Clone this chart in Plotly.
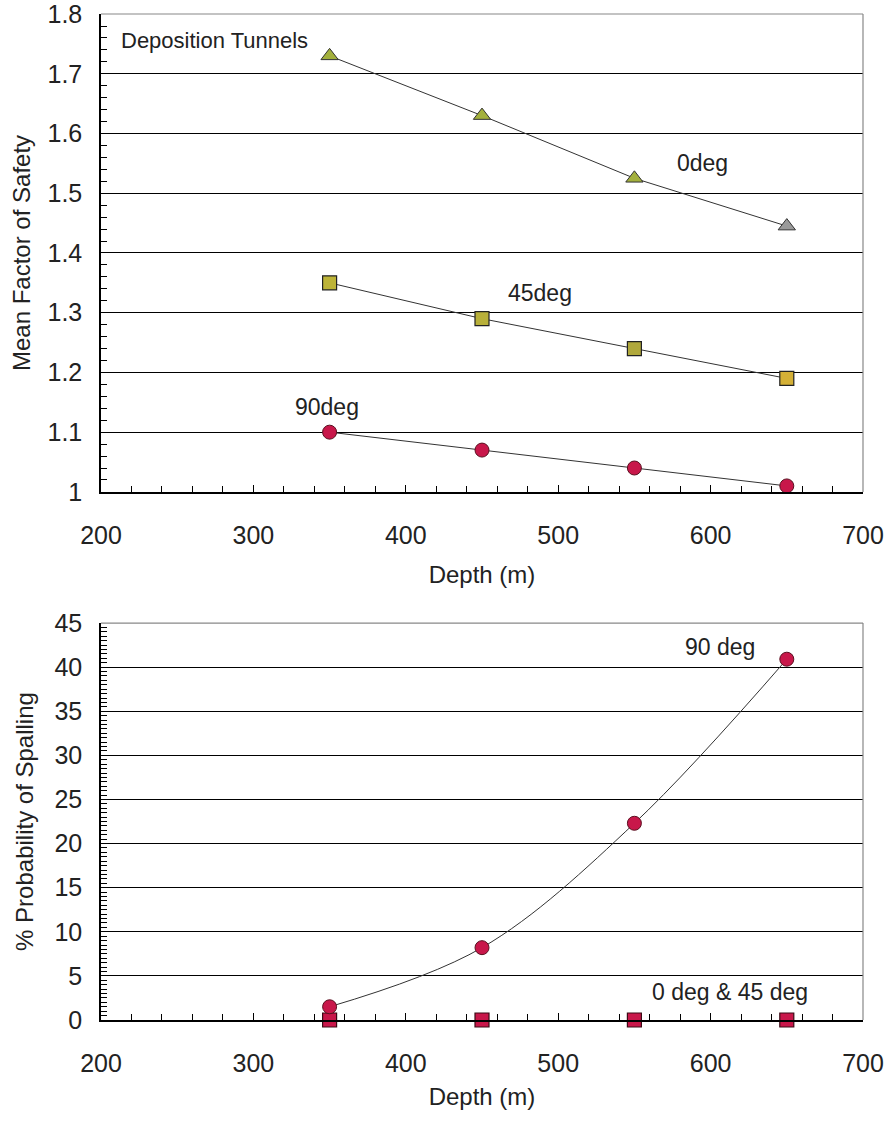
import plotly.graph_objects as go

depth = [350, 450, 550, 650]
fs_0deg = [1.73, 1.63, 1.525, 1.445]
fs_45deg = [1.35, 1.29, 1.24, 1.19]
fs_90deg = [1.10, 1.07, 1.04, 1.01]
ps_90deg = [1.5, 8.2, 22.3, 40.9]
ps_0_45deg = [0, 0, 0, 0]

FONT = "Liberation Sans, Arial, sans-serif"
LINE = "#333333"
TXT = "#222222"

fig = go.Figure()
fig.add_trace(go.Scatter(x=depth, y=fs_0deg, mode="lines+markers", xaxis="x", yaxis="y",
                         line=dict(color=LINE, width=1),
                         marker=dict(symbol="triangle-up", size=15,
                                     color=["#a3b03c", "#a3b03c", "#a3b03c", "#9a9a9a"],
                                     line=dict(color="#333333", width=1))))
fig.add_trace(go.Scatter(x=depth, y=fs_45deg, mode="lines+markers", xaxis="x", yaxis="y",
                         line=dict(color=LINE, width=1),
                         marker=dict(symbol="square", size=14,
                                     color=["#bdb438", "#b8b03a", "#b0a83c", "#d4b036"],
                                     line=dict(color="#222222", width=1.2))))
fig.add_trace(go.Scatter(x=depth, y=fs_90deg, mode="lines+markers", xaxis="x", yaxis="y",
                         line=dict(color=LINE, width=1),
                         marker=dict(symbol="circle", size=14, color="#c8174a",
                                     line=dict(color="#5a1020", width=1)), cliponaxis=False))
fig.add_trace(go.Scatter(x=depth, y=ps_0_45deg, mode="markers", xaxis="x2", yaxis="y2",
                         marker=dict(symbol="square", size=14, color="#c8174a",
                                     line=dict(color="#3a0a15", width=1.2)), cliponaxis=False))
fig.add_trace(go.Scatter(x=depth, y=ps_90deg, mode="lines+markers", xaxis="x2", yaxis="y2",
                         line=dict(color=LINE, width=1, shape="spline"),
                         marker=dict(symbol="circle", size=14, color="#c8174a",
                                     line=dict(color="#5a1020", width=1)), cliponaxis=False))

TICKF = dict(family=FONT, size=25, color=TXT)
TITLEF = dict(family=FONT, size=24, color=TXT)

xcommon = dict(range=[200, 700], dtick=100, tick0=200, ticks="inside", ticklen=7, tickcolor="black",
               showline=True, linecolor="black", linewidth=1.5, showgrid=False, zeroline=False,
               tickfont=TICKF, ticklabelstandoff=20, automargin=False, ticklabeloverflow="allow",
               minor=dict(dtick=20, ticks="inside", ticklen=6, tickcolor="black"))
ycommon = dict(ticks="inside", ticklen=7, tickcolor="black", showline=True, linecolor="black",
               linewidth=1.5, showgrid=True, gridcolor="black", gridwidth=1.3, zeroline=False,
               tickfont=TICKF, ticklabelstandoff=12, automargin=False, ticklabeloverflow="allow")

fig.update_layout(
    width=885, height=1124, showlegend=False,
    paper_bgcolor="white", plot_bgcolor="white",
    margin=dict(l=101, r=22, t=14, b=104),
    xaxis=dict(xcommon, anchor="y", domain=[0, 1],
               title=dict(text="Depth (m)", font=TITLEF, standoff=18)),
    yaxis=dict(ycommon, anchor="x", domain=[0.5249, 1], range=[0.9999, 1.8001],
               tickvals=[1.0, 1.1, 1.2, 1.3, 1.4, 1.5, 1.6, 1.7, 1.8],
               ticktext=["1", "1.1", "1.2", "1.3", "1.4", "1.5", "1.6", "1.7", "1.8"],
               minor=dict(dtick=0.02, tick0=1.0, ticks="inside", ticklen=6, tickcolor="black", showgrid=False),
               title=dict(text="Mean Factor of Safety", font=TITLEF, standoff=10)),
    xaxis2=dict(xcommon, anchor="y2", domain=[0, 1],
                title=dict(text="Depth (m)", font=TITLEF, standoff=12)),
    yaxis2=dict(ycommon, anchor="x2", domain=[0, 0.3946], range=[0, 45.001], dtick=5,
                minor=dict(dtick=0.5, ticks="inside", ticklen=6, tickcolor="black", showgrid=False),
                title=dict(text="% Probability of Spalling", font=TITLEF, standoff=14)),
)

for xr, yr in [("x domain", "y domain"), ("x2 domain", "y2 domain")]:
    fig.add_shape(type="line", xref=xr, yref=yr, x0=0, x1=1, y0=1, y1=1, line=dict(color="#888", width=1.2))
    fig.add_shape(type="line", xref=xr, yref=yr, x0=1, x1=1, y0=0, y1=1, line=dict(color="#888", width=1.2))

afont = dict(family=FONT, size=23, color=TXT)
fig.add_annotation(x=212, y=1.756, xref="x", yref="y", text="Deposition Tunnels", showarrow=False,
                   xanchor="left", font=dict(family=FONT, size=22, color=TXT))
fig.add_annotation(x=595, y=1.55, xref="x", yref="y", text="0deg", showarrow=False, font=afont)
fig.add_annotation(x=488, y=1.333, xref="x", yref="y", text="45deg", showarrow=False, font=afont)
fig.add_annotation(x=348, y=1.142, xref="x", yref="y", text="90deg", showarrow=False, font=afont)
fig.add_annotation(x=606, y=42.3, xref="x2", yref="y2", text="90 deg", showarrow=False, font=afont)
fig.add_annotation(x=613, y=3.2, xref="x2", yref="y2", text="0 deg &amp; 45 deg", showarrow=False, font=afont)

fig.write_html("out.html", config={"displayModeBar": False},
               post_script="document.body.style.margin='0';document.body.style.overflow='hidden';")
